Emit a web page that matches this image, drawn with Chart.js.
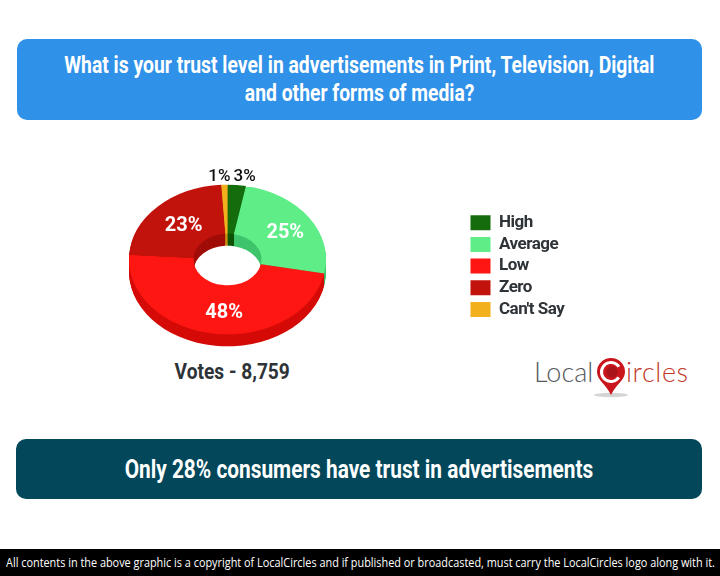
<!DOCTYPE html>
<html>
<head>
<meta charset="utf-8">
<script src="https://cdn.jsdelivr.net/npm/chart.js@4/dist/chart.umd.min.js"></script>
<style>
html, body { margin: 0; padding: 0; background: #fff; }
body { position: relative; width: 720px; height: 576px; overflow: hidden; font-family: Roboto, sans-serif; }
canvas { position: absolute; left: 0; top: 0; }
.box { position: absolute; color: #fff; text-align: center; font-weight: 700; }
.line { position: absolute; left: -100px; right: -100px; text-align: center; white-space: nowrap; }
.line span { display: inline-block; }
#question { left: 17px; top: 39px; width: 685px; height: 81px; background: #3091e8; border-radius: 10px; font-size: 23px; }
#finding { left: 16px; top: 439px; width: 686px; height: 60px; background: #02475a; border-radius: 10px; font-size: 25px; }
#footer { position: absolute; left: 0; top: 549px; width: 720px; height: 27px; background: #000; color: #fff; font-family: "Open Sans", sans-serif; font-size: 13px; line-height: 27px; white-space: nowrap; }
#footer span { position: absolute; left: 6px; top: 0; transform-origin: 0 50%; transform: scaleX(0.837); }
#votes { position: absolute; left: 132px; width: 200px; top: 359px; text-align: center; font-size: 22px; font-weight: 700; color: #2e3338; }
#votes span { display: inline-block; transform: scaleX(0.87); }
.logo { position: absolute; top: 355px; font-family: Lato, sans-serif; font-weight: 300; font-size: 27px; white-space: nowrap; }
</style>
</head>
<body>
<div id="question" class="box">
  <div class="line" style="top:13px"><span style="transform:scaleX(.84)">What is your trust level in advertisements in Print, Television, Digital</span></div>
  <div class="line" style="top:41px"><span style="transform:scaleX(.84)">and other forms of media?</span></div>
</div>
<div id="finding" class="box">
  <div class="line" style="top:16px"><span style="transform:scaleX(.834)">Only 28% consumers have trust in advertisements</span></div>
</div>
<div id="votes"><span>Votes - 8,759</span></div>
<div class="logo" style="left:534px;color:#55585c">Local</div>
<div class="logo" style="left:626px;color:#c23a2c;letter-spacing:.6px">ircles</div>
<svg style="position:absolute;left:590px;top:356px" width="46" height="44" viewBox="0 0 46 44">
  <ellipse cx="21" cy="39" rx="17" ry="2.2" fill="#d4d4d4"/>
  <path d="M7 16 A14 14 0 1 1 35 16 C35 24 26 28 21 39 C16 28 7 24 7 16 Z" fill="#c9151b"/>
  <circle cx="21" cy="16" r="9.5" fill="none" stroke="#fff" stroke-width="3" stroke-dasharray="48 11.7" transform="rotate(35 21 16)"/>
  <circle cx="22" cy="16" r="5.5" fill="#a8141a"/>
</svg>
<canvas id="chart" width="720" height="576"></canvas>
<div id="footer"><span>All contents in the above graphic is a copyright of LocalCircles and if published or broadcasted, must carry the LocalCircles logo along with it.</span></div>

<script>
const categories = ['High', 'Average', 'Low', 'Zero', "Can't Say"];
const shares = [3, 25, 48, 23, 1];

const topColors = ['#146c0c', '#5fed88', '#fd1612', '#c1120b', '#f2b01c'];
const wallColors = ['#0d5207', '#3fc46c', '#d50b07', '#a00c07', '#c98f12'];

// the pie is a flat doughnut squashed vertically, with darker copies underneath for the 3D rim
const SQUASH = 0.76;
const DEPTH = 12;

const tiltPlugin = {
    id: 'tilt',
    beforeDatasetsDraw(chart) {
        const ctx = chart.ctx;
        const area = chart.chartArea;
        const cx = (area.left + area.right) / 2;
        const cy = (area.top + area.bottom) / 2;
        const arcs = chart.getDatasetMeta(0).data;
        ctx.save();
        ctx.translate(cx, cy);
        ctx.scale(1, SQUASH);
        ctx.translate(-cx, -cy);
        for (let d = DEPTH; d > 0; d--) {
            ctx.save();
            ctx.translate(0, d / SQUASH);
            arcs.forEach((arc, i) => {
                const keep = arc.options;
                arc.options = Object.assign({}, keep, { backgroundColor: wallColors[i] });
                arc.draw(ctx);
                arc.options = keep;
            });
            ctx.restore();
        }
    },
    afterDatasetsDraw(chart) {
        const ctx = chart.ctx;
        ctx.restore();
        const area = chart.chartArea;
        const cx = (area.left + area.right) / 2;
        const cy = (area.top + area.bottom) / 2;
        ctx.save();
        ctx.letterSpacing = '0px';
        ctx.textBaseline = 'middle';
        chart.getDatasetMeta(0).data.forEach((arc, i) => {
            const p = arc.getCenterPoint();
            const text = shares[i] + '%';
            if (shares[i] < 5) {
                // small slices: labelled above the rim, either side of the 12 o'clock seam
                ctx.font = '500 17px Roboto';
                ctx.fillStyle = '#111';
                ctx.textAlign = i === 0 ? 'left' : 'right';
                ctx.fillText(text, cx + (i === 0 ? 6 : 3), area.top + 16);
            } else {
                ctx.font = '700 20px Roboto';
                ctx.fillStyle = '#fff';
                ctx.textAlign = 'center';
                ctx.fillText(text, p.x + (i === 2 ? 5 : 3), cy + (p.y - cy) * SQUASH + (i === 2 ? 4 : 2));
            }
        });
        ctx.restore();
    },
    afterLayout(chart) {
        const legend = chart.legend;
        const w = legend.width, h = legend.height;
        legend.left = 465.8;
        legend.right = legend.left + w;
        legend.top = 209.5;
        legend.bottom = legend.top + h;
    },
    beforeDraw(chart) {
        chart.ctx.letterSpacing = '-0.5px';
    }
};

new Chart(document.getElementById('chart'), {
    type: 'doughnut',
    data: {
        labels: categories,
        datasets: [{
            data: shares,
            backgroundColor: topColors,
            borderWidth: 0,
            hoverOffset: 0
        }]
    },
    options: {
        responsive: false,
        animation: false,
        events: [],
        cutout: '34.5%',
        layout: { padding: { left: 129, right: 394, top: 161, bottom: 218 } },
        plugins: {
            tooltip: { enabled: false },
            legend: {
                position: 'chartArea',
                align: 'start',
                labels: {
                    boxWidth: 20,
                    boxHeight: 15,
                    padding: 4.7,
                    color: '#2e3338',
                    font: { family: 'Roboto', size: 17, weight: '700' }
                }
            }
        }
    },
    plugins: [tiltPlugin]
});
</script>
</body>
</html>
